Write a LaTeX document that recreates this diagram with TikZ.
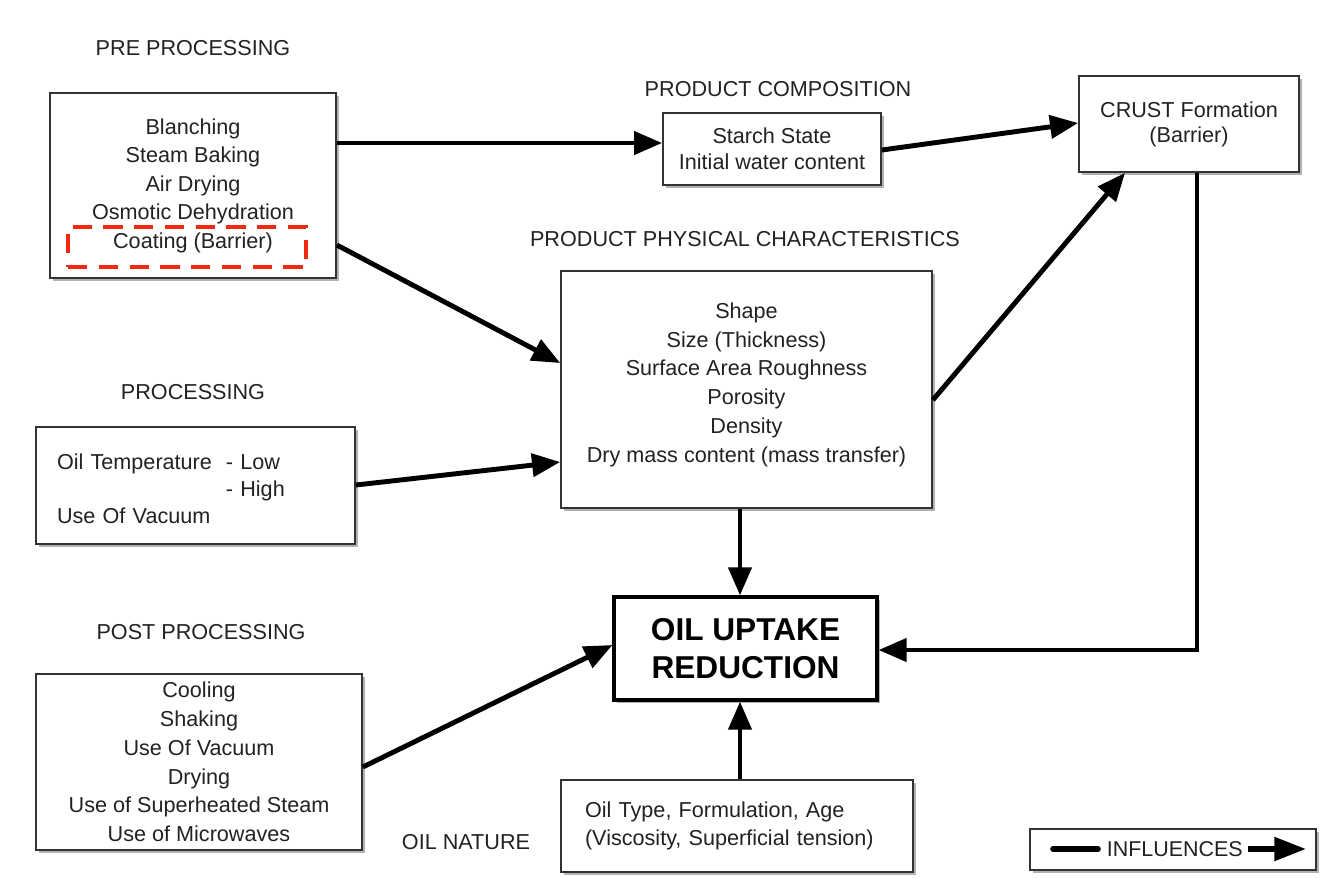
\documentclass[tikz,border=0pt]{standalone}
\usepackage{fontspec}
\setmainfont{Liberation Sans}
\usetikzlibrary{arrows.meta,shadows,positioning}
\definecolor{txt}{HTML}{222222}
\definecolor{edge}{HTML}{333333}
\definecolor{redd}{HTML}{F02A10}
\begin{document}
\begin{tikzpicture}[x=0.02cm,y=-0.02cm,
  every node/.style={text=txt},
  box/.style={draw=edge,line width=1pt,fill=white,rectangle,inner sep=0pt,align=center,
    drop shadow={shadow xshift=0.06cm,shadow yshift=-0.06cm,fill=black,opacity=0.3},
    font=\fontsize{12.3}{16.2}\selectfont},
  head/.style={font=\fontsize{12.3}{15}\selectfont,inner sep=0pt},
  infl/.style={line width=2.8pt,draw=black,-{Triangle[length=16pt,width=13pt]}},
]
\useasboundingbox (0,0) rectangle (1326,877);
\fill[white] (0,0) rectangle (1326,877);

% headings
\node[head] (hpre) at (193,48) {PRE PROCESSING};
\node[head] (hcomp) at (778,89) {PRODUCT COMPOSITION};
\node[head] (hphys) at (745,239) {PRODUCT PHYSICAL CHARACTERISTICS};
\node[head] (hproc) at (193,392) {PROCESSING};
\node[head] (hpost) at (201,632) {POST PROCESSING};
\node[head] (hnat) at (466,842) {OIL NATURE};

% boxes
\node[box,minimum width=5.72cm,minimum height=3.7cm] (pre) at (193,185.5)
  {Blanching\\Steam Baking\\Air Drying\\Osmotic Dehydration\\Coating (Barrier)};
\node[draw=redd,line width=2.3pt,dash pattern=on 11pt off 6.5pt,minimum width=4.76cm,minimum height=0.8cm,inner sep=0pt] (coat) at (187,247) {};
\node[box,minimum width=4.36cm,minimum height=1.44cm,font=\fontsize{12.3}{14.8}\selectfont] (comp) at (772,149)
  {Starch State\\Initial water content};
\node[box,minimum width=4.4cm,minimum height=1.92cm,font=\fontsize{12.3}{14.2}\selectfont] (crust) at (1189,124)
  {CRUST Formation\\(Barrier)};
\node[box,minimum width=7.42cm,minimum height=4.74cm,font=\fontsize{12.3}{16.4}\selectfont] (phys) at (746.5,389.5)
  {Shape\\Size (Thickness)\\Surface Area Roughness\\Porosity\\Density\\Dry mass content (mass transfer)\\[-8.3pt]};
\node[box,minimum width=6.38cm,minimum height=2.34cm,align=left,text width=5.54cm,inner xsep=0.42cm,font=\fontsize{12.3}{15.3}\selectfont] (proc) at (195.5,485.5)
  {\begin{tabular}{@{}l@{\hspace{0.28cm}}l@{}}\rule{0pt}{17.5pt}Oil Temperature&- Low\\&- High\\\multicolumn{2}{@{}l}{Use Of Vacuum}\end{tabular}};
\node[box,minimum width=6.52cm,minimum height=3.52cm,font=\fontsize{12.3}{16.4}\selectfont] (post) at (199,762)
  {Cooling\\Shaking\\Use Of Vacuum\\Drying\\Use of Superheated Steam\\Use of Microwaves};
\node[box,line width=1.8pt,draw=black,minimum width=5.26cm,minimum height=2.06cm,font=\bfseries\fontsize{18}{21.5}\selectfont,text=black] (oil) at (745.5,648.5)
  {OIL UPTAKE\\REDUCTION};
\node[box,minimum width=7.04cm,minimum height=1.84cm,align=left,text width=6.08cm,inner xsep=0.48cm,font=\fontsize{12.3}{15.9}\selectfont] (nat) at (737,826)
  {Oil Type, Formulation, Age\\(Viscosity, Superficial tension)};
\node[box,minimum width=5.72cm,minimum height=0.82cm,font=\fontsize{12.2}{14}\selectfont] (leg) at (1173,849.5) {\hspace{1.21cm}INFLUENCES\hspace{1.14cm}};

% helper coordinates
\coordinate (xa) at (740,0);
\coordinate (bend) at (1197,650);
\coordinate (cr) at (1125,0);
\coordinate (y143) at (0,143);
\coordinate (y245) at (0,245);
\coordinate (y363) at (0,363);
\coordinate (y485) at (0,485);
\coordinate (y462) at (0,462);
\coordinate (y150) at (0,150);
\coordinate (y123) at (0,123);
\coordinate (y400) at (0,400);
\coordinate (y767) at (0,767);
\coordinate (y645) at (0,645);
\coordinate (l1) at (1053,849);
\coordinate (l2) at (1098,849);
\coordinate (l3) at (1248,849);
\coordinate (l4) at (1306,849);

% connectors
\draw[infl] (pre.east |- y143) -- (comp.west |- y143);
\draw[infl] (pre.east |- y245) -- (phys.west |- y363);
\draw[infl] (proc.east |- y485) -- (phys.west |- y462);
\draw[infl] (comp.east |- y150) -- (crust.west |- y123);
\draw[infl] (phys.east |- y400) -- (crust.south -| cr);
\draw[infl] (phys.south -| xa) -- (oil.north -| xa);
\draw[infl] (crust.south -| bend) -- (bend) -- (oil.east |- bend);
\draw[infl] (post.east |- y767) -- (oil.west |- y645);
\draw[infl] (nat.north -| xa) -- (oil.south -| xa);

% legend
\draw[line width=3.2pt,line cap=round] (l1) -- (l2);
\draw[line width=3.2pt,-{Triangle[length=18pt,width=13pt]}] (l3) -- (l4);
\end{tikzpicture}
\end{document}
